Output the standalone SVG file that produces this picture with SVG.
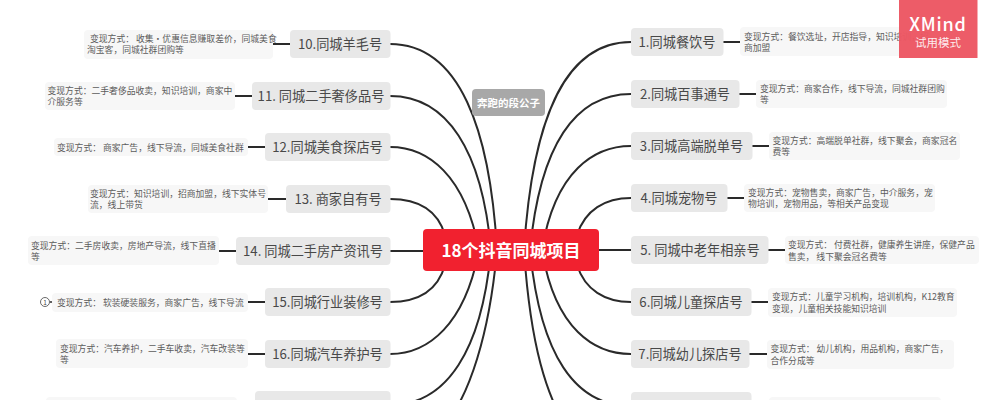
<svg xmlns="http://www.w3.org/2000/svg" width="1007" height="400" viewBox="0 0 1007 400">
<style>
text{font-family:"Noto Sans CJK SC","Noto Sans",sans-serif;white-space:pre}
.n{fill:#e8e8e8}
.nt{font-size:13.2px;fill:#484848;text-anchor:middle}
.b{fill:#f7f7f7}
.bt{font-size:8.8px;fill:#5c5c5c}
.c{fill:none;stroke:#2a2a2a;stroke-width:2}
</style>
<rect width="1007" height="400" fill="#fff"/>
<g id="connectors" class="c">
<path d="M390,44C460,44 490,130 497,250"/>
<path d="M390,96C447,96 482,150 491,250"/>
<path d="M390,147C428,147 465,175 479,250"/>
<path d="M390,199C415,199 437,208 445,235"/>
<path d="M390,251H430"/>
<path d="M390,302C415,302 437,293 445,265"/>
<path d="M390,354C428,354 465,325 479,250"/>
<path d="M390,405C447,405 482,350 491,250"/>
<path d="M440,430C470,400 490,330 497,250"/>
<path d="M631,42C562,42 532,125 524,250"/>
<path d="M631,94C575,94 540,145 530,250"/>
<path d="M631,146C595,146 555,170 542,250"/>
<path d="M631,198C605,198 585,210 577,235"/>
<path d="M631,250H590"/>
<path d="M631,302C605,302 585,290 577,265"/>
<path d="M631,354C595,354 555,330 542,250"/>
<path d="M631,406C575,406 540,355 530,250"/>
<path d="M575,440C545,400 530,340 524,250"/>
<path d="M273,44H290M235,96H252M248,147H265M268,199H286M219,251H236M248,302H265M248,354H265M723,42H740M739,94H756M752,146H769M727,198H744M768,250H785M751,302H768M749,354H767"/>
<path d="M50,302H52" stroke-width="1.5"/>
</g>
<g id="n10"><rect class="n" x="290" y="30" width="100.500" height="28" rx="4"/><text class="nt" x="340" y="49">10.同城羊毛号</text><rect class="b" x="84" y="30" width="189" height="29" rx="4"/><text class="bt" x="90" y="42">变现方式： 收集·优惠信息赚取差价，同城美食</text><text class="bt" x="87" y="53">淘宝客，同城社群团购等</text></g>
<g id="n11"><rect class="n" x="252" y="82" width="138.500" height="28" rx="4"/><text class="nt" x="321" y="101">11. 同城二手奢侈品号</text><rect class="b" x="45" y="82" width="190" height="28" rx="4"/><text class="bt" x="47.500" y="94">变现方式：二手奢侈品收卖，知识培训，商家中</text><text class="bt" x="47.500" y="105">介服务等</text></g>
<g id="n12"><rect class="n" x="265" y="133" width="125.500" height="28" rx="4"/><text class="nt" x="327.500" y="152">12.同城美食探店号</text><rect class="b" x="54" y="138" width="194" height="18" rx="4"/><text class="bt" x="57" y="151">变现方式： 商家广告，线下导流，同城美食社群</text></g>
<g id="n13"><rect class="n" x="286" y="185" width="104.500" height="28" rx="4"/><text class="nt" x="338" y="204">13. 商家自有号</text><rect class="b" x="88" y="185" width="180" height="28" rx="4"/><text class="bt" x="90" y="197">变现方式：知识培训，招商加盟，线下实体号</text><text class="bt" x="90" y="208">流，线上带货</text></g>
<g id="n14"><rect class="n" x="236" y="237" width="154.500" height="28" rx="4"/><text class="nt" x="313" y="256">14. 同城二手房产资讯号</text><rect class="b" x="28" y="236" width="191" height="29" rx="4"/><text class="bt" x="31" y="249">变现方式：二手房收卖，房地产导流，线下直播</text><text class="bt" x="31" y="260">等</text></g>
<g id="n15"><rect class="n" x="265" y="288" width="125.500" height="28" rx="4"/><text class="nt" x="327.500" y="307">15.同城行业装修号</text><rect class="b" x="52" y="293" width="196" height="19" rx="4"/><text class="bt" x="57" y="306">变现方式： 软装硬装服务，商家广告，线下导流</text><circle cx="45" cy="302" r="4.500" fill="#fff" stroke="#444" stroke-width="0.800"/><text x="45" y="304.500" font-size="6.500" fill="#444" text-anchor="middle">1</text></g>
<g id="n16"><rect class="n" x="265" y="340" width="125.500" height="28" rx="4"/><text class="nt" x="327.500" y="359">16.同城汽车养护号</text><rect class="b" x="56" y="339" width="192" height="29" rx="4"/><text class="bt" x="60" y="352">变现方式：汽车养护，二手车收卖，汽车改装等</text><text class="bt" x="60" y="363">等</text></g>
<g id="n17"><rect class="n" x="255" y="391" width="135.500" height="28" rx="4"/><rect class="b" x="46" y="397" width="191" height="20" rx="4"/></g>
<g id="n1"><rect class="n" x="631" y="28" width="92.500" height="28" rx="4"/><text class="nt" x="677" y="47">1.同城餐饮号</text><rect class="b" x="740" y="27" width="190" height="29" rx="4"/><text class="bt" x="744" y="40">变现方式：餐饮选址，开店指导，知识培训，招</text><text class="bt" x="744" y="51">商加盟</text></g>
<g id="n2"><rect class="n" x="631" y="80" width="108.500" height="28" rx="4"/><text class="nt" x="685" y="99">2.同城百事通号</text><rect class="b" x="756" y="80" width="191" height="28" rx="4"/><text class="bt" x="760" y="92">变现方式：商家合作，线下导流，同城社群团购</text><text class="bt" x="760" y="103">等</text></g>
<g id="n3"><rect class="n" x="631" y="132" width="121.500" height="28" rx="4"/><text class="nt" x="691.500" y="151">3.同城高端脱单号</text><rect class="b" x="769" y="132" width="191" height="28" rx="4"/><text class="bt" x="772.500" y="144">变现方式：高端脱单社群，线下聚会，商家冠名</text><text class="bt" x="772.500" y="155">费等</text></g>
<g id="n4"><rect class="n" x="631" y="184" width="96.500" height="28" rx="4"/><text class="nt" x="679" y="203">4.同城宠物号</text><rect class="b" x="744" y="184" width="191" height="28" rx="4"/><text class="bt" x="748" y="196">变现方式：宠物售卖，商家广告，中介服务，宠</text><text class="bt" x="748" y="207">物培训，宠物用品，等相关产品变现</text></g>
<g id="n5"><rect class="n" x="631" y="236" width="137.500" height="28" rx="4"/><text class="nt" x="700" y="255">5. 同城中老年相亲号</text><rect class="b" x="785" y="236" width="194" height="28" rx="4"/><text class="bt" x="788" y="248">变现方式： 付费社群，健康养生讲座，保健产品</text><text class="bt" x="788" y="260">售卖， 线下聚会冠名费等</text></g>
<g id="n6"><rect class="n" x="631" y="288" width="120.500" height="28" rx="4"/><text class="nt" x="691" y="307">6.同城儿童探店号</text><rect class="b" x="768" y="288" width="189" height="29" rx="4"/><text class="bt" x="772" y="300">变现方式：儿童学习机构，培训机构，K12教育</text><text class="bt" x="772" y="312">变现，儿童相关技能知识培训</text></g>
<g id="n7"><rect class="n" x="631" y="340" width="118.500" height="28" rx="4"/><text class="nt" x="690" y="359">7.同城幼儿探店号</text><rect class="b" x="767" y="340" width="187" height="29" rx="4"/><text class="bt" x="770.500" y="352">变现方式： 幼儿机构，用品机构，商家广告，</text><text class="bt" x="770.500" y="364">合作分成等</text></g>
<g id="n8"><rect class="n" x="631" y="392" width="120.500" height="28" rx="4"/><rect class="b" x="769" y="397" width="172" height="20" rx="4"/></g>
<g id="tag"><rect x="472" y="89" width="73" height="27" rx="4" fill="#a8a8a8"/><text x="508.500" y="106.500" font-size="10.500" font-weight="700" fill="#fff" text-anchor="middle">奔跑的段公子</text></g>
<g id="center"><rect x="423" y="229" width="176" height="42" rx="4" fill="#f1212f"/><text x="511" y="257" font-size="17" font-weight="700" fill="#fff" text-anchor="middle">18个抖音同城项目</text></g>
<g id="watermark"><rect x="899" y="0" width="78.500" height="58" fill="#ec5763" fill-opacity="0.970"/><text x="938" y="31" font-size="18" font-weight="500" letter-spacing="0.800" fill="#fff" text-anchor="middle" font-family="Montserrat,'Open Sans',sans-serif">XMind</text><text x="938" y="47" font-size="11.500" fill="#fff" fill-opacity="0.900" text-anchor="middle">试用模式</text></g>
</svg>
